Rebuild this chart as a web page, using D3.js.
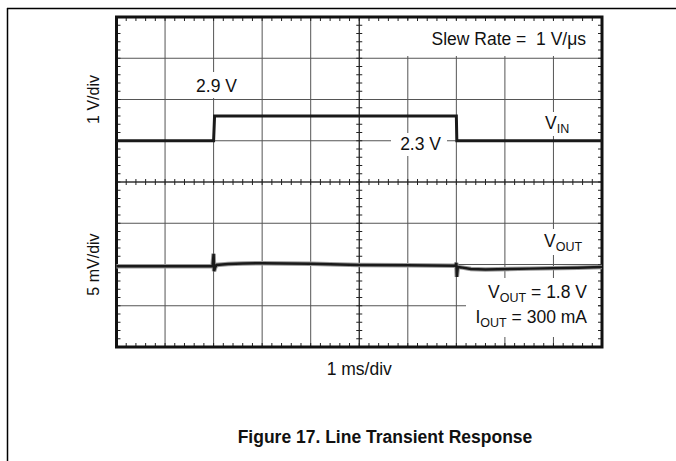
<!DOCTYPE html>
<html>
<head>
<meta charset="utf-8">
<script src="https://cdn.jsdelivr.net/npm/d3@7"></script>
<style>
  body { margin: 0; background: #fff; }
  svg { display: block; }
  text { font-family: "Liberation Sans", Arial, sans-serif; }
</style>
</head>
<body>
<svg width="676" height="461"></svg>
<script>
// scope screen: 10 x 8 divisions, 1 ms/div
var divsX = 10;
var divsY = 8;

// VIN trace (ms, V) - 1 V/div, upper half
var vinT = [0, 2.0, 2.02, 7.0, 7.01, 10];
var vinV = [2.3, 2.3, 2.9, 2.9, 2.3, 2.3];

// VOUT trace (ms, mV deviation from 1.8 V) - 5 mV/div, lower half
var voutT = [0, 1.98, 2.0, 2.01, 2.03, 2.06, 2.3, 2.6, 3.0, 4.0, 5.0, 6.0, 6.98, 7.0, 7.01, 7.03, 7.1, 7.3, 7.6, 8.5, 9.5, 10];
var voutV = [-0.2, -0.2, 1.3, -0.8, -0.4, -0.05, 0.05, 0.12, 0.15, 0.08, -0.05, -0.1, -0.15, 0.2, -1.5, -0.3, -0.35, -0.55, -0.6, -0.5, -0.4, -0.3];

var svg = d3.select('svg');
var pL = 116.5, pR = 602, pT = 17, pB = 347;

var x = d3.scaleLinear().domain([0, divsX]).range([pL, pR]);
var yDiv = d3.scaleLinear().domain([0, divsY]).range([pT, pB]);
var yIn = d3.scaleLinear().domain([-2.7, 5.3]).range([pB, pT]);
var yOut = d3.scaleLinear().domain([-10, 30]).range([pB, pT]);

// page rules
svg.append('line').attr('x1', 7.5).attr('x2', 7.5).attr('y1', 8).attr('y2', 461)
    .attr('stroke', '#000').attr('stroke-width', 1.5);
svg.append('line').attr('x1', 7).attr('x2', 676).attr('y1', 8.5).attr('y2', 8.5)
    .attr('stroke', '#000').attr('stroke-width', 1.5);

// grid
var grid = svg.append('g').attr('stroke', '#555').attr('stroke-width', 1);
grid.selectAll('.gx').data(d3.range(1, divsX)).enter().append('line')
    .attr('x1', d => x(d)).attr('x2', d => x(d))
    .attr('y1', pT).attr('y2', pB);
grid.selectAll('.gy').data(d3.range(1, divsY)).enter().append('line')
    .attr('y1', d => yDiv(d)).attr('y2', d => yDiv(d))
    .attr('x1', pL).attr('x2', pR);

// white boxes behind annotations
var boxes = [
    [395, 20, 598, 56],   // slew rate
    [192, 72, 241, 98],   // 2.9 V
    [391, 133, 447, 156], // 2.3 V
    [540, 112, 584, 136], // VIN
    [540, 229, 588, 255], // VOUT
    [466, 278, 598, 337]  // VOUT = / IOUT =
];
svg.selectAll('.box').data(boxes).enter().append('rect')
    .attr('x', d => d[0]).attr('y', d => d[1])
    .attr('width', d => d[2] - d[0]).attr('height', d => d[3] - d[1])
    .attr('fill', '#fff');

// minor ticks every 0.2 div
var minorX = d3.range(0, divsX * 5 + 1).map(d => d / 5);
var minorY = d3.range(0, divsY * 5 + 1).map(d => d / 5);
var ticks = svg.append('g').attr('stroke', '#222').attr('stroke-width', 1);
var tl = 4;
ticks.selectAll('.tt').data(minorX).enter().append('line')
    .attr('x1', d => x(d)).attr('x2', d => x(d)).attr('y1', pT).attr('y2', pT + tl);
ticks.selectAll('.tb').data(minorX).enter().append('line')
    .attr('x1', d => x(d)).attr('x2', d => x(d)).attr('y1', pB).attr('y2', pB - tl);
ticks.selectAll('.tc').data(minorX).enter().append('line')
    .attr('x1', d => x(d)).attr('x2', d => x(d)).attr('y1', yDiv(4) - 3).attr('y2', yDiv(4) + 3);
ticks.selectAll('.tlft').data(minorY).enter().append('line')
    .attr('y1', d => yDiv(d)).attr('y2', d => yDiv(d)).attr('x1', pL).attr('x2', pL + tl);
ticks.selectAll('.trgt').data(minorY).enter().append('line')
    .attr('y1', d => yDiv(d)).attr('y2', d => yDiv(d)).attr('x1', pR).attr('x2', pR - tl);
ticks.selectAll('.tcy').data(minorY).enter().append('line')
    .attr('y1', d => yDiv(d)).attr('y2', d => yDiv(d)).attr('x1', x(5) - 3).attr('x2', x(5) + 3);
// center axes
ticks.append('line').attr('x1', x(5)).attr('x2', x(5)).attr('y1', pT).attr('y2', pB);
ticks.append('line').attr('x1', pL).attr('x2', pR).attr('y1', yDiv(4)).attr('y2', yDiv(4));

// frame
svg.append('rect').attr('x', pL).attr('y', pT)
    .attr('width', pR - pL).attr('height', pB - pT)
    .attr('fill', 'none').attr('stroke', '#111').attr('stroke-width', 3);

// traces
var vinLine = d3.line().x(d => x(d[0])).y(d => yIn(d[1]));
svg.append('path').datum(d3.zip(vinT, vinV))
    .attr('d', vinLine).attr('fill', 'none')
    .attr('stroke', '#1a1a1a').attr('stroke-width', 3);

var voutLine = d3.line().x(d => x(d[0])).y(d => yOut(d[1]));
svg.append('path').datum(d3.zip(voutT, voutV))
    .attr('d', voutLine).attr('fill', 'none')
    .attr('stroke', '#999').attr('stroke-width', 4.5);
svg.append('path').datum(d3.zip(voutT, voutV))
    .attr('d', voutLine).attr('fill', 'none')
    .attr('stroke', '#1a1a1a').attr('stroke-width', 2.5);

// text
var fs = 17.5, sub = 12.5;
function label(tx, ty, anchor, parts) {
    var t = svg.append('text').attr('x', tx).attr('y', ty)
        .attr('text-anchor', anchor).attr('font-size', fs).attr('fill', '#111');
    var shift = 0;
    parts.forEach(p => {
        var s = p[1] ? 4 : 0;
        t.append('tspan').attr('dy', s - shift)
            .attr('font-size', p[1] ? sub : fs).text(p[0]);
        shift = s;
    });
    return t;
}

label(586, 45, 'end', [['Slew Rate =\u00a0\u00a01 V/\u03bcs']]);
label(216.5, 92, 'middle', [['2.9 V']]);
label(441, 150, 'end', [['2.3 V']]);
label(545, 129, 'start', [['V'], ['IN', 1]]);
label(544, 247, 'start', [['V'], ['OUT', 1]]);
label(587, 298, 'end', [['V'], ['OUT', 1], [' = 1.8 V']]);
label(587, 323, 'end', [['I'], ['OUT', 1], [' = 300 mA']]);

svg.append('text').attr('transform', 'translate(99,' + yDiv(2) + ') rotate(-90)')
    .attr('text-anchor', 'middle').attr('font-size', 16).attr('fill', '#111').text('1 V/div');
svg.append('text').attr('transform', 'translate(99,' + yDiv(6) + ') rotate(-90)')
    .attr('text-anchor', 'middle').attr('font-size', 16).attr('fill', '#111').text('5 mV/div');

svg.append('text').attr('x', x(5)).attr('y', 375)
    .attr('text-anchor', 'middle').attr('font-size', fs).attr('fill', '#111').text('1 ms/div');
svg.append('text').attr('x', 385).attr('y', 443)
    .attr('text-anchor', 'middle').attr('font-size', 17.5).attr('font-weight', 'bold')
    .attr('fill', '#111').text('Figure 17. Line Transient Response');
</script>
</body>
</html>
